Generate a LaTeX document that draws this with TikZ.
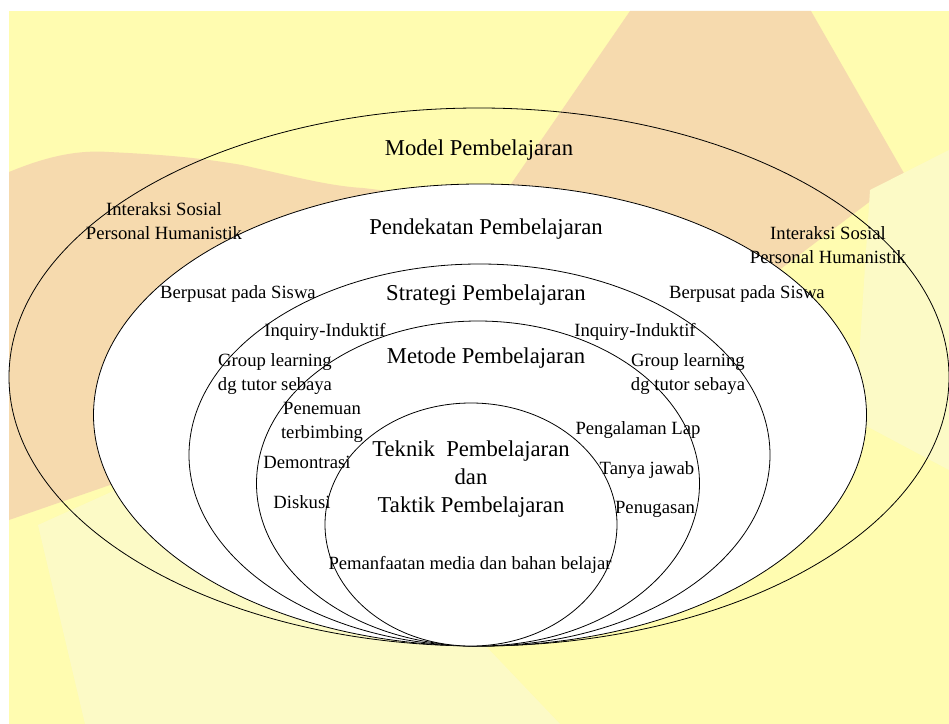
\documentclass[tikz,border=0pt]{standalone}
\usepackage{fontspec}
\setmainfont{Liberation Serif}
\usetikzlibrary{positioning}
\definecolor{bgyellow}{RGB}{255,252,176}
\definecolor{bgorange}{RGB}{246,218,174}
\definecolor{bgpale}{RGB}{252,250,198}
\tikzset{
  head/.style={font=\fontsize{17}{21}\selectfont, align=center, inner sep=0pt},
  lbl/.style={font=\fontsize{14}{18}\selectfont, align=center, inner sep=0pt},
  ring/.style={draw=black, line width=0.6pt, fill=white},
}

\begin{document}
\begin{tikzpicture}[x=0.75pt,y=-0.75pt]
\useasboundingbox (0,0) rectangle (949,724);
% background
\fill[white] (0,0) rectangle (949,724);
\fill[bgyellow] (9,11) rectangle (949,724);
\fill[bgorange] (630,11) -- (811,11) -- (905,175) -- (700,330) -- (300,430) -- (110,485) -- (9,520) -- (9,172)
  .. controls (50,155) and (80,150) .. (109,152)
  .. controls (170,155) and (200,158) .. (242,165)
  .. controls (300,178) and (330,186) .. (363,188)
  .. controls (420,195) and (470,200) .. (500,200) -- cycle;
\fill[bgpale] (949,150) -- (870,190) -- (855,420) -- (949,470) -- cycle;
\fill[bgpale] (38,525) -- (120,488) -- (480,640) -- (560,724) -- (85,724) -- cycle;

% rings, outside in
\draw[line width=0.6pt] (479,377) ellipse [x radius=470, y radius=269];
\draw[ring] (480,415) ellipse [x radius=386.5, y radius=231];
\draw[ring] (479.5,455) ellipse [x radius=290.5, y radius=191];
\draw[ring] (478,483.5) ellipse [x radius=221.5, y radius=162.5];
\draw[ring] (471,524.5) ellipse [x radius=146, y radius=121.5];

% ring titles
\node[head] (model) at (479,150) {Model Pembelajaran};
\node[head] (pendekatan) at (486,229) {Pendekatan Pembelajaran};
\node[head] (strategi) at (486,295) {Strategi Pembelajaran};
\node[head] (metode) at (486,358) {Metode Pembelajaran};
\node[head] (teknik) at (471,479) {Teknik\ \ Pembelajaran\\dan\\Taktik Pembelajaran};

% model
\node[lbl] (sosialL) at (164,221) {Interaksi Sosial\\Personal Humanistik};
\node[lbl] (sosialR) at (828,245) {Interaksi Sosial\\Personal Humanistik};
% pendekatan
\node[lbl] (siswaL) at (238,294) {Berpusat pada Siswa};
\node[lbl] (siswaR) at (747,294) {Berpusat pada Siswa};
% strategi
\node[lbl] (inquiryL) at (325,332) {Inquiry-Induktif};
\node[lbl] (inquiryR) at (635,332) {Inquiry-Induktif};
\node[lbl] (groupL) at (275,374) {Group learning\\dg tutor sebaya};
\node[lbl] (groupR) at (688,374) {Group learning\\dg tutor sebaya};
% metode
\node[lbl] (penemuan) at (322,422) {Penemuan\\terbimbing};
\node[lbl] (demo) at (307,462) {Demontrasi};
\node[lbl] (diskusi) at (302,502) {Diskusi};
\node[lbl] (lap) at (638,430) {Pengalaman Lap};
\node[lbl] (tanya) at (647,470) {Tanya jawab};
\node[lbl] (tugas) at (655,509) {Penugasan};
% teknik
\node[lbl] (media) at (470,565) {Pemanfaatan media dan bahan belajar};
\end{tikzpicture}
\end{document}
